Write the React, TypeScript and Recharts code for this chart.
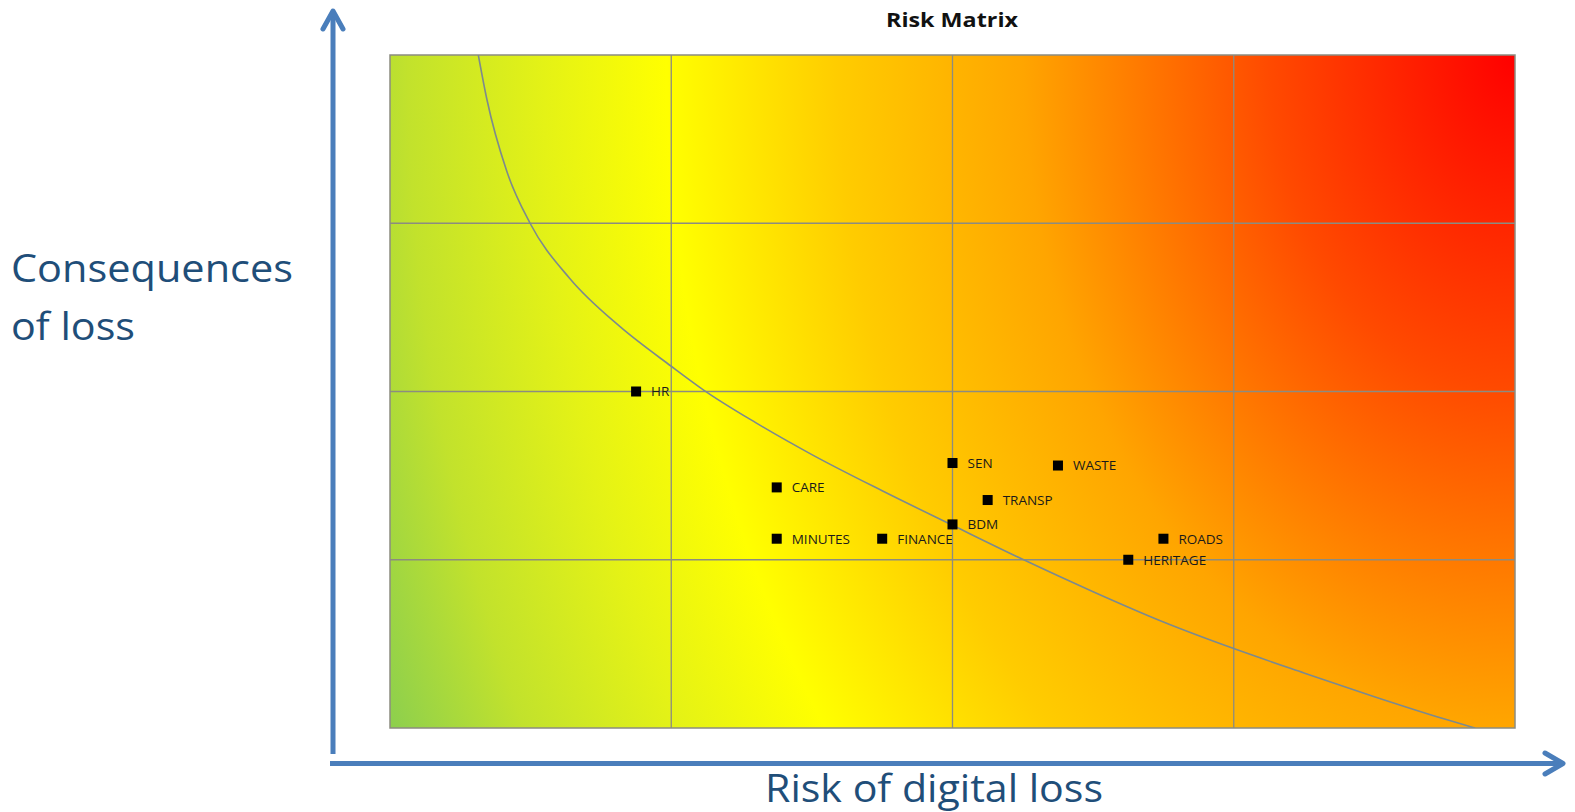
import { ComposedChart, XAxis, YAxis, Scatter, Line, ReferenceArea, ReferenceLine } from 'recharts'

// risk items: x = risk of digital loss, y = consequences of loss
const itemNames = ['HR', 'CARE', 'MINUTES', 'FINANCE', 'SEN', 'BDM', 'TRANSP', 'WASTE', 'ROADS', 'HERITAGE']
const itemRisk = [0.875, 1.375, 1.375, 1.75, 2.0, 2.0, 2.125, 2.375, 2.75, 2.625]
const itemConsequence = [2.0, 1.43, 1.125, 1.125, 1.575, 1.21, 1.355, 1.56, 1.125, 1.0]

// threshold curve
const curveX = [0.314, 0.344, 0.415, 0.498, 0.64, 0.818, 1.0, 1.114, 1.3, 1.5, 1.75, 2.0, 2.24, 2.5, 2.75, 3.0, 3.25, 3.5, 3.75, 3.858]
const curveY = [4.0, 3.74, 3.31, 3.0, 2.67, 2.385, 2.15, 2.01, 1.815, 1.625, 1.41, 1.205, 1.01, 0.81, 0.63, 0.472, 0.327, 0.186, 0.053, 0.0]

const gridTicks = [1, 2, 3]

const points = itemNames.map((name, i) => ({ name, x: itemRisk[i], y: itemConsequence[i] }))
const curve = curveX.map((x, i) => ({ x, y: curveY[i] }))

const FONT = '"Open Sans", "Noto Sans", sans-serif'
const BLUE = '#4a7ebb'
const LABEL = '#1f4e79'

function ItemMarker(props: any) {
  const { cx, cy, payload } = props
  if (cx == null || cy == null) return null
  return (
    <g>
      <rect x={cx - 5} y={cy - 5} width={10} height={10} fill="#000" />
      <text x={cx + 15} y={cy} dy="0.36em" fontSize={13.5} fontFamily={FONT} fill="#1a1a1a">
        {payload.name}
      </text>
    </g>
  )
}

export default function App() {
  return (
    <div style={{ position: 'absolute', left: 0, top: 0, width: 1575, height: 812, background: '#fff' }}>
      <ComposedChart
        width={1575}
        height={812}
        margin={{ top: 55, left: 390, right: 60, bottom: 84 }}
        style={{ position: 'absolute', left: 0, top: 0 }}
      >
        <defs>
          <radialGradient
            id="riskBg"
            gradientUnits="userSpaceOnUse"
            cx={1515}
            cy={55}
            r={1230}
            gradientTransform="translate(1515 55) scale(1 1.36) translate(-1515 -55)"
          >
            <stop offset="0" stopColor="#ff0000" />
            <stop offset="0.2" stopColor="#ff4a00" />
            <stop offset="0.4" stopColor="#ffa500" />
            <stop offset="0.55" stopColor="#ffcc00" />
            <stop offset="0.69" stopColor="#ffff00" />
            <stop offset="0.79" stopColor="#e4f216" />
            <stop offset="0.9" stopColor="#c2e22c" />
            <stop offset="1" stopColor="#8ccf4e" />
          </radialGradient>
        </defs>
        <XAxis type="number" dataKey="x" domain={[0, 4]} hide allowDataOverflow />
        <YAxis type="number" dataKey="y" domain={[0, 4]} hide allowDataOverflow />
        <ReferenceArea x1={0} x2={4} y1={0} y2={4} fill="url(#riskBg)" fillOpacity={1} stroke="#8c8c80" strokeWidth={1.5} />
        {gridTicks.map((t) => (
          <ReferenceLine key={'vx' + t} x={t} stroke="#8c8c80" strokeWidth={1.3} />
        ))}
        {gridTicks.map((t) => (
          <ReferenceLine key={'hy' + t} y={t} stroke="#8c8c80" strokeWidth={1.3} />
        ))}
        <Line
          data={curve}
          dataKey="y"
          type="monotone"
          stroke="#7d8a8e"
          strokeWidth={1.6}
          dot={false}
          activeDot={false}
          isAnimationActive={false}
        />
        <Scatter data={points} dataKey="y" shape={<ItemMarker />} isAnimationActive={false} />
      </ComposedChart>

      <svg width={1575} height={812} style={{ position: 'absolute', left: 0, top: 0, pointerEvents: 'none' }}>
        <text x={952} y={27} textAnchor="middle" fontSize={20} fontWeight="bold" fontFamily={FONT} fill="#111" textLength={132} lengthAdjust="spacingAndGlyphs">
          Risk Matrix
        </text>
        {/* vertical arrow */}
        <line x1={333} y1={754} x2={333} y2={12} stroke={BLUE} strokeWidth={5} />
        <polyline points="323,29 333,11 343,29" fill="none" stroke={BLUE} strokeWidth={5} strokeLinecap="round" strokeLinejoin="round" />
        {/* horizontal arrow */}
        <line x1={330} y1={763.5} x2={1561} y2={763.5} stroke={BLUE} strokeWidth={5} />
        <polyline points="1545,753 1563,763.5 1545,774" fill="none" stroke={BLUE} strokeWidth={5} strokeLinecap="round" strokeLinejoin="round" />
        <text x={11} y={282} fontSize={38} fontFamily={FONT} fill={LABEL} textLength={282} lengthAdjust="spacingAndGlyphs">
          Consequences
        </text>
        <text x={11} y={340} fontSize={38} fontFamily={FONT} fill={LABEL} textLength={124} lengthAdjust="spacingAndGlyphs">
          of loss
        </text>
        <text x={765} y={802} fontSize={39} fontFamily={FONT} fill={LABEL} textLength={338} lengthAdjust="spacingAndGlyphs">
          Risk of digital loss
        </text>
      </svg>
    </div>
  )
}
